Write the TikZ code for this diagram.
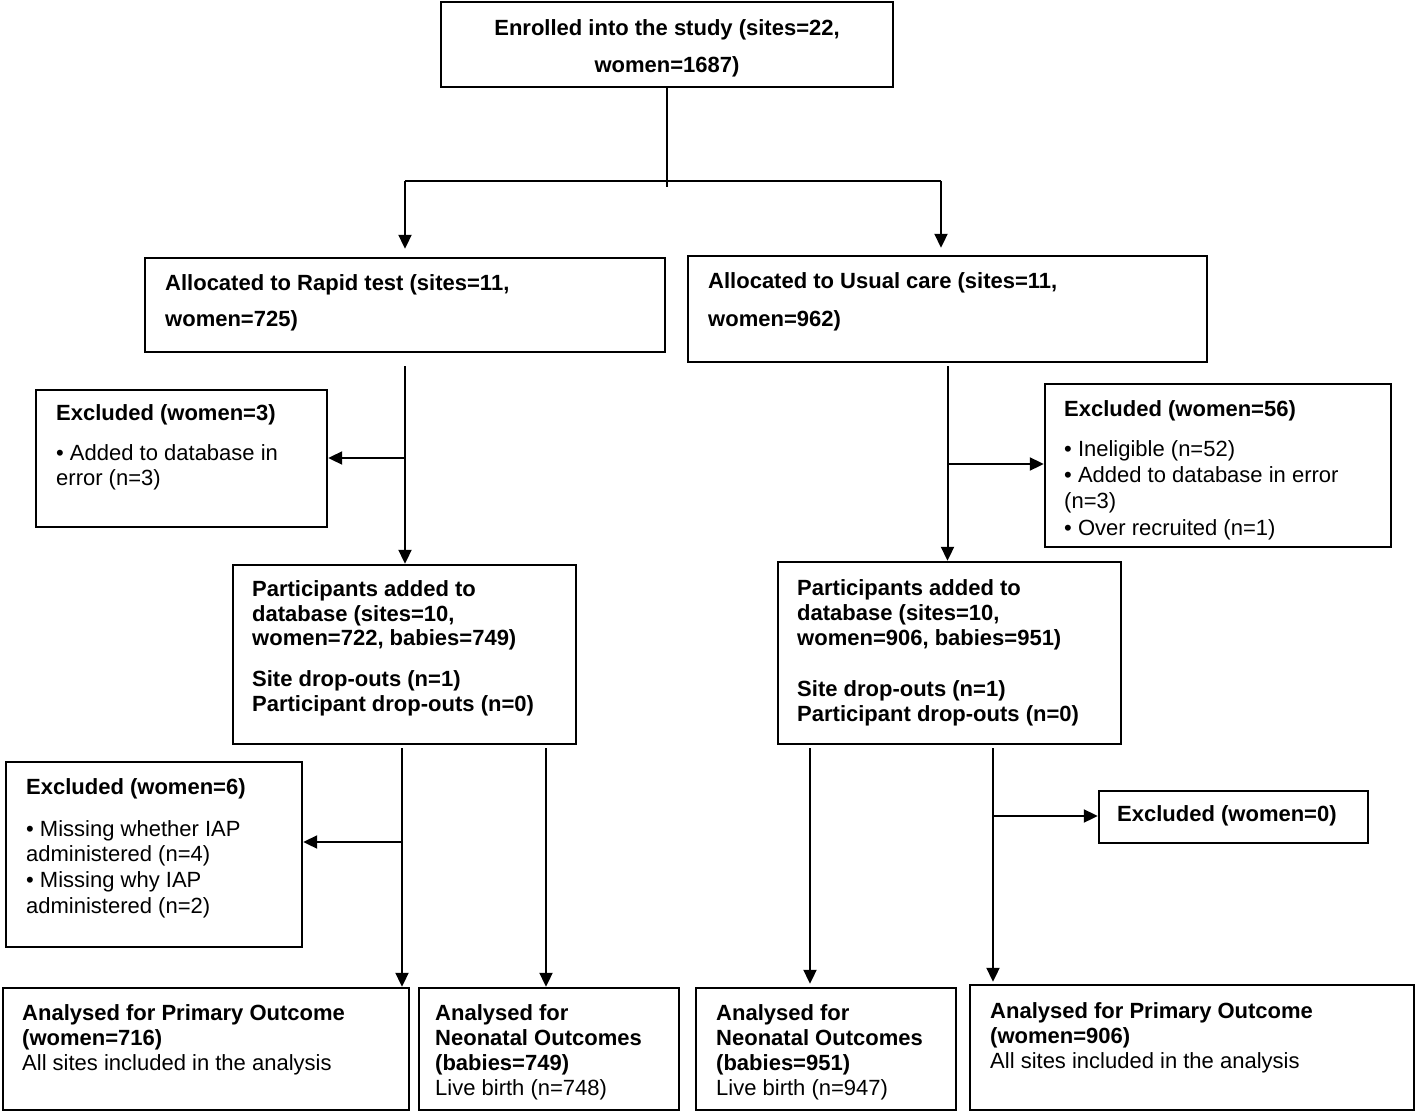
\documentclass[tikz,border=0pt]{standalone}
\usepackage{fontspec}
\setmainfont{Liberation Sans}
\usetikzlibrary{arrows.meta}
\newcommand{\fl}{\rule{0pt}{17pt}}
\begin{document}
\begin{tikzpicture}[x=1pt,y=-1pt,
  box/.style={draw, line width=2.4pt, inner sep=0pt, rectangle},
  txt/.style={inner sep=0pt, anchor=north west, align=left},
  conn/.style={line width=2pt},
  arr/.style={line width=2pt, -{Triangle[length=14pt,width=13pt]}}]
\useasboundingbox (0,0) rectangle (1418,1115);
\fill[white] (0,0) rectangle (1418,1115);

% boxes
\node[box, minimum width=452pt, minimum height=85pt]  (enr) at (667,44.5) {};
\node[box, minimum width=520pt, minimum height=94pt]  (rap) at (405,305) {};
\node[box, minimum width=519pt, minimum height=106pt] (us)  at (947.5,309) {};
\node[box, minimum width=291pt, minimum height=137pt] (exa) at (181.5,458.5) {};
\node[box, minimum width=343pt, minimum height=179pt] (pa)  at (404.5,654.5) {};
\node[box, minimum width=346pt, minimum height=163pt] (exb) at (1218,465.5) {};
\node[box, minimum width=343pt, minimum height=182pt] (pb)  at (949.5,653) {};
\node[box, minimum width=296pt, minimum height=185pt] (exc) at (154,854.5) {};
\node[box, minimum width=269pt, minimum height=52pt]  (exd) at (1233.5,817) {};
\node[box, minimum width=406pt, minimum height=122pt] (aa)  at (206,1049) {};
\node[box, minimum width=260pt, minimum height=122pt] (ab)  at (549,1049) {};
\node[box, minimum width=260pt, minimum height=122pt] (ac)  at (826,1049) {};
\node[box, minimum width=444pt, minimum height=125pt] (ad)  at (1192,1047.5) {};

% texts
\node[txt, anchor=north, align=center, font=\fontsize{22}{37}\selectfont] (tenr) at (667,18)
  {\fl\textbf{Enrolled into the study (sites=22,}\\\textbf{women=1687)}};
\node[txt, font=\fontsize{22}{36}\selectfont] (trap) at (165,273)
  {\fl\textbf{Allocated to Rapid test (sites=11,}\\\textbf{women=725)}};
\node[txt, font=\fontsize{22}{38}\selectfont] (tus) at (708,271)
  {\fl\textbf{Allocated to Usual care (sites=11,}\\\textbf{women=962)}};
\node[txt, font=\fontsize{22}{25}\selectfont] (texa) at (56,403)
  {\fl\textbf{Excluded (women=3)}\\[15pt]• Added to database in\\error (n=3)};
\node[txt, font=\fontsize{22}{24.8}\selectfont] (tpa) at (252,579)
  {\fl\textbf{Participants added to}\\\textbf{database (sites=10,}\\\textbf{women=722, babies=749)}\\[16pt]\textbf{Site drop-outs (n=1)}\\\textbf{Participant drop-outs (n=0)}};
\node[txt, font=\fontsize{22}{26.3}\selectfont] (texb) at (1064,399)
  {\fl\textbf{Excluded (women=56)}\\[13.7pt]• Ineligible (n=52)\\• Added to database in error\\(n=3)\\• Over recruited (n=1)};
\node[txt, font=\fontsize{22}{25}\selectfont] (tpb) at (797,578)
  {\fl\textbf{Participants added to}\\\textbf{database (sites=10,}\\\textbf{women=906, babies=951)}\\[26pt]\textbf{Site drop-outs (n=1)}\\\textbf{Participant drop-outs (n=0)}};
\node[txt, font=\fontsize{22}{25.7}\selectfont] (texc) at (26,777)
  {\fl\textbf{Excluded (women=6)}\\[16.3pt]• Missing whether IAP\\administered (n=4)\\• Missing why IAP\\administered (n=2)};
\node[txt, font=\fontsize{22}{25}\selectfont] (texd) at (1117,804)
  {\fl\textbf{Excluded (women=0)}};
\node[txt, font=\fontsize{22}{25}\selectfont] (taa) at (22,1003)
  {\fl\textbf{Analysed for Primary Outcome}\\\textbf{(women=716)}\\All sites included in the analysis};
\node[txt, font=\fontsize{22}{25}\selectfont] (tab) at (435,1003)
  {\fl\textbf{Analysed for}\\\textbf{Neonatal Outcomes}\\\textbf{(babies=749)}\\Live birth (n=748)};
\node[txt, font=\fontsize{22}{25}\selectfont] (tac) at (716,1003)
  {\fl\textbf{Analysed for}\\\textbf{Neonatal Outcomes}\\\textbf{(babies=951)}\\Live birth (n=947)};
\node[txt, font=\fontsize{22}{25}\selectfont] (tad) at (990,1001)
  {\fl\textbf{Analysed for Primary Outcome}\\\textbf{(women=906)}\\All sites included in the analysis};

% junction coordinates
\coordinate (split) at (667,187);
\coordinate (hl) at (405,181);
\coordinate (hr) at (941,181);
\coordinate (ba) at (405,458);
\coordinate (bb) at (947,464);
\coordinate (sa1) at (402,748);
\coordinate (sa2) at (546,748);
\coordinate (bc) at (403,842);
\coordinate (sb1) at (810,748);
\coordinate (sb2) at (993,748);
\coordinate (bd) at (993,816);

% connectors
\draw[conn] (enr.south) -- (split);
\draw[conn] (hl) -- (hr);
\draw[arr, shorten >=8pt] (hl) -- (hl |- rap.north);
\draw[arr, shorten >=7pt] (hr) -- (hr |- us.north);
\draw[arr, shorten <=13pt] (rap.south) -- (rap.south |- pa.north);
\draw[arr] (ba) -- (ba -| exa.east);
\draw[arr, shorten <=3pt] (us.south) -- (us.south |- pb.north);
\draw[arr] (bb) -- (bb -| exb.west);
\draw[arr] (sa1) -- (sa1 |- aa.north);
\draw[arr] (sa2) -- (sa2 |- ab.north);
\draw[arr] (bc) -- (bc -| exc.east);
\draw[arr, shorten >=3pt] (sb1) -- (sb1 |- ac.north);
\draw[arr, shorten >=2pt] (sb2) -- (sb2 |- ad.north);
\draw[arr] (bd) -- (bd -| exd.west);
\end{tikzpicture}
\end{document}
